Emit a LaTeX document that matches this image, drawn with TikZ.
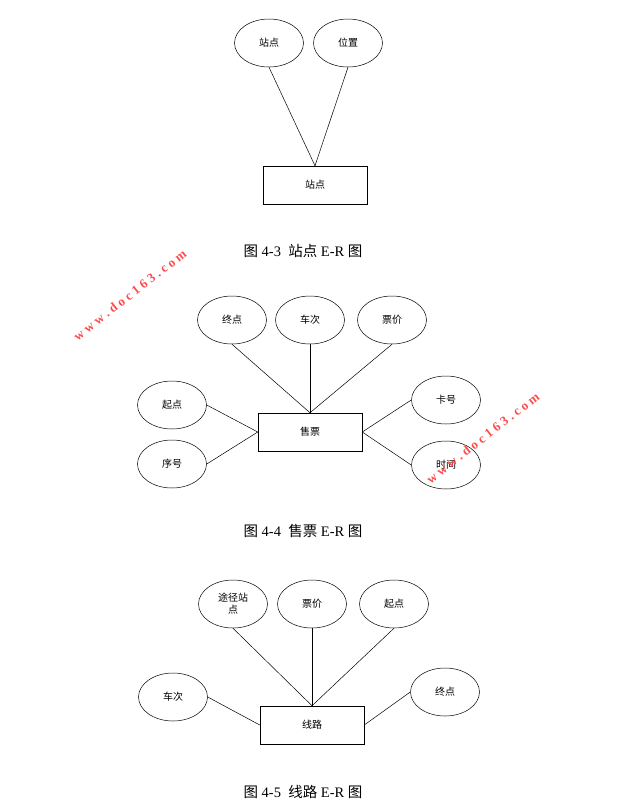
\documentclass[tikz,border=0pt]{standalone}
\usepackage{fontspec}
\setmainfont{Liberation Serif}
\newfontfamily\cjk{Noto Sans CJK SC}
\usetikzlibrary{shapes.geometric}
\newcommand\attrw{69pt}
\newcommand\attrh{48pt}
\newcommand\wmtext{w\ w\ w\ .\ d\ o\ c\ 1\ 6\ 3\ .\ c\ o\ m}

\begin{document}
\begin{tikzpicture}[x = 1pt, y = -1pt, line width = 0.5pt,
	attr/.style = {ellipse, draw, minimum width = \attrw, minimum height = \attrh, inner sep = 0pt, font = \cjk\fontsize{10}{12}\selectfont, align = center},
	entity/.style = {draw, minimum width = 104pt, minimum height = 38pt, font = \cjk\fontsize{10}{12}\selectfont},
	caption/.style = {font = \fontsize{14.5}{17}\selectfont},
	mark163/.style = {text = red!70, font = \bfseries\fontsize{13}{15}\selectfont, rotate = 38}]
	\useasboundingbox (0, 0) rectangle (638, 807);

	% Station
	\node [entity] (st) at (315, 185) {站点};
	\foreach \n/\x/\t in {sa/269/站点, sb/348/位置} {
		\node [attr] (\n) at (\x, 43) {\t};
		\draw (\n.south) -- (st.north);
	}
	\node [caption] (cap3) at (303, 251) {{\cjk 图} 4-3\ \ {\cjk 站点} E-R {\cjk 图}};

	% Ticket
	\node [entity] (tk) at (310, 432) {售票};
	\foreach \n/\x/\t in {ta/232/终点, tb/310/车次, tc/392/票价} {
		\node [attr] (\n) at (\x, 320) {\t};
		\draw (\n.south) -- (tk.north);
	}
	\foreach \n/\y/\t in {td/405/起点, te/464/序号} {
		\node [attr] (\n) at (172, \y) {\t};
		\draw (\n.east) -- (tk.west);
	}
	\foreach \n/\y/\t in {tf/400/卡号, tg/465/时间} {
		\node [attr] (\n) at (446, \y) {\t};
		\draw (\n.west) -- (tk.east);
	}
	\node [caption] (cap4) at (303, 531) {{\cjk 图} 4-4\ \ {\cjk 售票} E-R {\cjk 图}};

	% Route
	\node [entity] (rt) at (312, 725) {线路};
	\foreach \n/\x/\t in {ra/233/途径站\\点, rb/312/票价, rc/394/起点} {
		\node [attr] (\n) at (\x, 604) {\t};
		\draw (\n.south) -- (rt.north);
	}
	\node [attr] (rd) at (173, 697) {车次};
	\draw (rd.east) -- (rt.west);
	\node [attr] (re) at (445, 692) {终点};
	\draw (re.west) -- (rt.east);
	\node [caption] (cap5) at (303, 792) {{\cjk 图} 4-5\ \ {\cjk 线路} E-R {\cjk 图}};

	% Watermarks
	\node [mark163] (wm1) at (130, 295) {\wmtext};
	\node [mark163] (wm2) at (483, 438) {\wmtext};
\end{tikzpicture}
\end{document}
